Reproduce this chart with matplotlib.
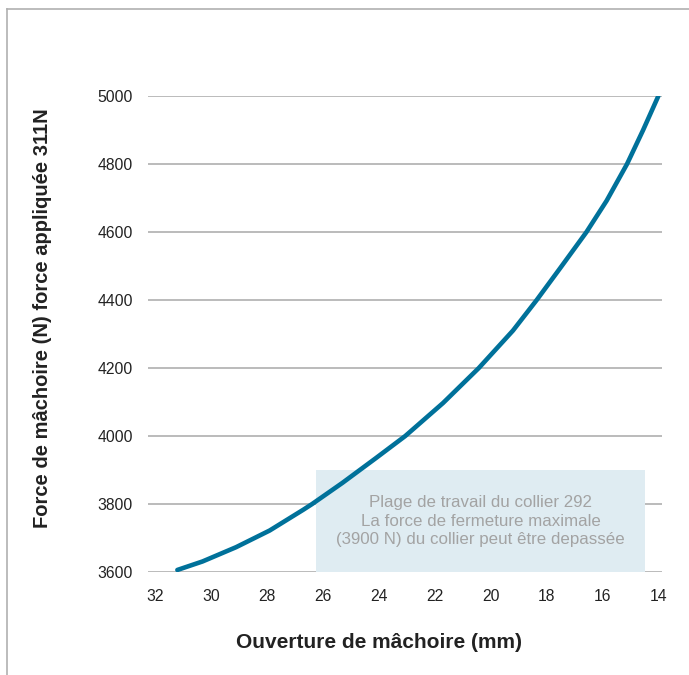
import matplotlib
matplotlib.use('Agg')
import matplotlib.pyplot as plt
from matplotlib.lines import Line2D
from matplotlib.patches import Rectangle

plt.rcParams['font.family'] = ['Liberation Sans', 'DejaVu Sans']

# values
opening_mm = [31.2, 30.3, 29.1, 27.9, 26.7, 26.38, 25.3, 24.1, 23.05, 21.7,
              20.42, 19.2, 18.35, 17.5, 16.57, 15.85, 15.12, 14.55, 14.0]
force_n = [3606, 3631, 3673, 3722, 3783, 3800, 3862, 3935, 4000, 4097,
           4200, 4310, 4400, 4495, 4600, 4692, 4800, 4899, 5000]

x_ticks = [32, 30, 28, 26, 24, 22, 20, 18, 16, 14]
y_ticks = [3600, 3800, 4000, 4200, 4400, 4600, 4800, 5000]

zone_x = [26.25, 14.47]
zone_y = [3600, 3900]
zone_text = ('Plage de travail du collier 292\n'
             'La force de fermeture maximale\n'
             '(3900 N) du collier peut être depassée')

fig = plt.figure(figsize=(6.89, 6.75), dpi=100)
ax = fig.add_axes([148 / 689, 1 - 572 / 675, 514 / 689, 476 / 675])

ax.set_xlim(32.25, 13.87)
ax.set_ylim(3600, 5000)

# shaded working range
ax.add_patch(Rectangle((zone_x[0], zone_y[0]), zone_x[1] - zone_x[0],
                       zone_y[1] - zone_y[0], facecolor='#dfecf2',
                       edgecolor='none', zorder=1))
ax.text((zone_x[0] + zone_x[1]) / 2, 3749, zone_text, ha='center', va='center',
        fontsize=12.2, color='#a3a3a3', linespacing=1.3, zorder=2)

for yt in y_ticks:
    ax.axhline(yt, color='#b5b5b5', linewidth=1.3, zorder=0.5)

ax.plot(opening_mm, force_n, color='#00719a', linewidth=3.3,
        solid_capstyle='round', solid_joinstyle='round', zorder=3)

ax.set_xticks(x_ticks)
ax.set_yticks(y_ticks)
ax.set_xticklabels([str(v) for v in x_ticks])
ax.set_yticklabels([str(v) for v in y_ticks])
ax.tick_params(axis='both', length=0, labelsize=11.3, labelcolor='#222222')
ax.tick_params(axis='x', pad=12)
ax.tick_params(axis='y', pad=11)
for s in ax.spines.values():
    s.set_visible(False)

fig.text(379 / 689, 1 - 643 / 675, 'Ouverture de mâchoire (mm)', ha='center',
         va='center', fontsize=15, fontweight='bold', color='#222222')
fig.text(43 / 689, 1 - 318 / 675, 'Force de mâchoire (N) force appliquée 311N',
         ha='center', va='center', rotation=90, fontsize=14.5,
         fontweight='bold', color='#222222')

# page frame (top and left)
fig.add_artist(Line2D([7 / 689, 1], [1 - 9 / 675, 1 - 9 / 675],
                      transform=fig.transFigure, color='#b0b0b0', linewidth=1.2))
fig.add_artist(Line2D([7 / 689, 7 / 689], [0, 1 - 9 / 675],
                      transform=fig.transFigure, color='#b0b0b0', linewidth=1.2))

fig.savefig('out.png', dpi=100)
